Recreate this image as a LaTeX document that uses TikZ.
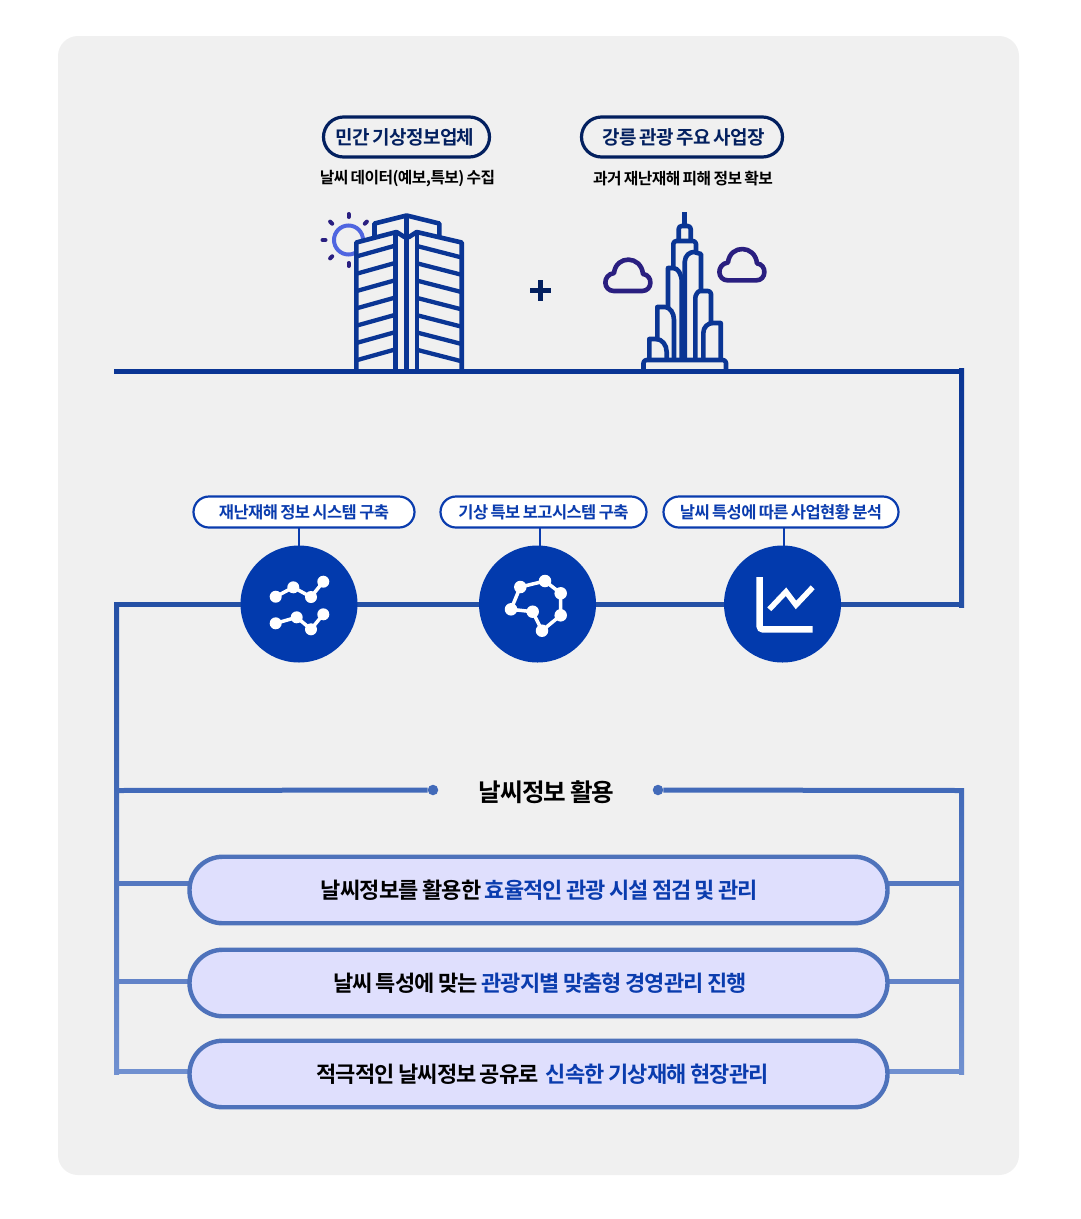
\documentclass[tikz,border=0pt]{standalone}
\usepackage{fontspec}
\setmainfont{Noto Sans CJK KR}[LetterSpace=-3.5,WordSpace=0.75,BoldFont={Noto Sans CJK KR Bold}]
\usetikzlibrary{shapes.misc,calc}
\definecolor{bgc}{HTML}{F0F0F0}
\definecolor{navyc}{HTML}{03205F}
\definecolor{bluec}{HTML}{0A3CAE}
\definecolor{iconc}{HTML}{0A3594}
\definecolor{discc}{HTML}{023AAD}
\definecolor{lilac}{HTML}{DFDFFD}
\definecolor{edgec}{HTML}{4E72BB}
\definecolor{purplec}{HTML}{2A1F80}
\definecolor{sunc}{HTML}{5066E0}
\definecolor{lineA}{RGB}{36,80,165}
\definecolor{lineB}{RGB}{66,106,185}
\definecolor{lineC}{RGB}{85,120,192}
\definecolor{lineD}{RGB}{98,131,200}
\definecolor{lineE}{RGB}{112,144,208}
\tikzset{
 x=1pt,y=-1pt,
 toppill/.style={rounded rectangle,draw=navyc,line width=3.2pt,fill=bgc,text=navyc,minimum height=40pt,inner sep=0pt,font=\fontsize{19}{20}\selectfont\bfseries},
 subtext/.style={inner sep=0pt,text=black,font=\fontsize{15.8}{16}\selectfont\bfseries},
 midpill/.style={rounded rectangle,draw=bluec,line width=2.2pt,fill=white,text=bluec,minimum height=31pt,inner sep=0pt,font=\fontsize{16.5}{17}\selectfont\bfseries},
 disc/.style={circle,fill=discc,minimum size=117pt,inner sep=0pt},
 lowpill/.style={rounded rectangle,draw=edgec,line width=4.4pt,fill=lilac,minimum height=66.5pt,minimum width=698pt,inner sep=0pt,text=black,font=\fontsize{22}{24}\selectfont\bfseries},
 dotnode/.style={circle,fill=lineB,minimum size=10.5pt,inner sep=0pt},
 iconline/.style={draw=iconc,line width=4.6pt,line join=round,line cap=butt},
 cloudline/.style={draw=purplec,line width=4.6pt,line join=round},
 wdot/.style={circle,fill=white,inner sep=0pt,minimum size=#1},
 whiteline/.style={draw=white,line width=3.5pt,line join=round},
 mainline/.style={line width=5pt},
}
\begin{document}
\begin{tikzpicture}
\useasboundingbox (0,0) rectangle (1080,1219);
\fill[white] (0,0) rectangle (1080,1219);
\fill[bgc,rounded corners=20pt] (58,36) rectangle (1019,1175);

% coordinates for line ends
\coordinate (tl) at (116.5,371);
\coordinate (tr) at (961.5,371);
\coordinate (mr) at (961.5,604.5);
\coordinate (ml) at (116.5,604.5);
\coordinate (bl) at (116.5,1071.5);
\coordinate (br) at (961.5,1071.5);
\coordinate (l790) at (116.5,790.5);
\coordinate (r790) at (961.5,790.5);
\coordinate (l883) at (116.5,883.5);
\coordinate (r883) at (961.5,883.5);
\coordinate (l981) at (116.5,981.5);
\coordinate (r981) at (961.5,981.5);

% sun
\draw[sunc,line width=4pt] (348.5,240) circle[radius=14.5];
\foreach \a in {-90,-45,-135,180,135,90}
  \draw[purplec,line width=4pt,line cap=round] ($(348.5,240)+(\a:23)$) -- ($(348.5,240)+(\a:26)$);

% building
\begin{scope}[iconline]
 \draw[fill=bgc] (374.5,238) -- (374.5,223.5) -- (406.7,215.5) -- (439.3,223.5) -- (439.3,238);
 \draw[fill=bgc] (356.3,371) -- (356.3,242.5) -- (396.5,232) -- (404.5,237) -- (406.7,237) -- (409,237) -- (416.7,232) -- (461.7,242.5) -- (461.7,371);
 \draw (395.7,233) -- (395.7,371);
 \draw (406.7,215.5) -- (406.7,371);
 \draw (417,233) -- (417,371);
 \foreach \y in {0,...,6}{
  \draw[line width=4.3pt] (356.3,{256.5+17.3*\y}) -- (395.7,{245.5+17.3*\y});
  \draw[line width=4.3pt] (417,{246+17.3*\y}) -- (461.7,{257.5+17.3*\y});
 }
 % tower
 \draw (684.7,212) -- (684.7,226);
 \draw[rounded corners=3pt] (678.7,239) -- (678.7,226) -- (690.7,226) -- (690.7,239);
 \draw[rounded corners=3pt] (673.3,270) -- (673.3,241) -- (696,241) -- (696,253);
 \draw (684.7,359) -- (684.7,262) .. controls (685,255) and (690,252) .. (694,252) -- (701,254) -- (701,291);
 \draw[rounded corners=3pt] (695.3,359) -- (695.3,301) .. controls (695.3,295) and (698,291) .. (703,291) -- (711,291) -- (711,323);
 \draw (703.3,359) -- (703.3,333) .. controls (703.3,327) and (708,323) .. (713,323) -- (720.7,323) -- (720.7,359);
 \draw (668,307) -- (668,268) -- (673,268) .. controls (678,268) and (681.7,274) .. (681.7,282) -- (681.7,359);
 \draw (657.3,341) -- (657.3,307) -- (665,307) .. controls (670,307) and (674,313) .. (674,320) -- (674,359);
 \draw (649.3,359) -- (649.3,339) -- (656,339) .. controls (662,339) and (666.7,345) .. (666.7,352) -- (666.7,359);
 \draw[rounded corners=3pt] (643.5,371) -- (643.5,360) -- (726,360) -- (726,371);
\end{scope}

% clouds
\foreach \dx/\dy in {0/0,114/-10.6}{
 \begin{scope}[shift={(\dx,\dy)}]
  \draw[cloudline] (614,291) -- (642,291) .. controls (653,291) and (653,275) .. (643,274)
    .. controls (641,255) and (616,255) .. (614,273) .. controls (602,275) and (603,291) .. (614,291) -- cycle;
 \end{scope}
}

% plus
\draw[navyc,line width=5pt] (530,290.5) -- (551,290.5);
\draw[navyc,line width=5pt] (540.5,280) -- (540.5,301);

% top pills and text
\node[toppill,minimum width=166pt] (p1) at (406.5,137) {\hspace*{-3pt}민간 기상정보업체};
\node[toppill,minimum width=201pt] (p2) at (682,137) {\hspace*{3pt}강릉 관광 주요 사업장};
\node[subtext] (s1) at (407.5,179) {날씨 데이터(예보,특보) 수집};
\node[subtext] (s2) at (683,179) {과거 재난재해 피해 정보 확보};

% main lines
\draw[iconc,mainline] ([xshift=-2.5pt]tl) -- ([xshift=2.5pt]tr);
\shade[top color=iconc,bottom color=lineA] (959,368.5) rectangle (964,607);
\draw[mainline,color=lineA] (ml) -- (mr);
\shade[top color=lineA,bottom color=lineE] (114,602) rectangle (119,1074);
\shade[top color=lineB,bottom color=lineE] (959,788) rectangle (964,1074);

% discs
\node[disc] (c1) at (299,604) {};
\node[disc] (c2) at (537.5,604) {};
\node[disc] (c3) at (782.5,604) {};

% mid pills
\node[midpill,minimum width=221pt] (m1) at (304,512) {재난재해 정보 시스템 구축};
\node[midpill,minimum width=206pt] (m2) at (543.5,512) {기상 특보 보고시스템 구축};
\node[midpill,minimum width=235pt] (m3) at (781,512) {날씨 특성에 따른 사업현황 분석};
\draw[bluec,line width=2.2pt] (299,527.5) -- (299,546);
\draw[bluec,line width=2.2pt] (540,527.5) -- (540,546);
\draw[bluec,line width=2.2pt] (784,527.5) -- (784,546);

% disc icons
\draw[whiteline] (275.7,596.7) -- (293.3,587.3) -- (311,597) -- (323.3,581.7);
\draw[whiteline] (275.7,623.3) -- (296.7,617.3) -- (311,629.3) -- (323.3,614.3);
\foreach \p in {(275.7,596.7),(293.3,587.3),(311,597),(323.3,581.7),(275.7,623.3),(296.7,617.3),(311,629.3),(323.3,614.3)}
  \node[wdot=12pt] at \p {};
\draw[whiteline] (532.7,611.7) -- (511,609.3) -- (520.3,587) -- (545,581) -- (560.7,593.3) -- (560.7,615.3) -- (542,630.7) -- cycle;
\foreach \p in {(511,609.3),(520.3,587),(545,581),(560.7,593.3),(560.7,615.3),(542,630.7),(532.7,611.7)}
  \node[wdot=12.5pt] at \p {};
\draw[draw=white,line width=6.5pt,rounded corners=3pt] (759.7,577) -- (759.7,629.3) -- (812.7,629.3);
\draw[draw=white,line width=5.5pt,line join=miter] (769.3,609.3) -- (786,591.7) -- (796,605) -- (812.7,587.3);

% title and its lines
\node[inner sep=0pt,text=black,font=\fontsize{24.6}{28}\selectfont\bfseries] (title) at (546.5,792) {날씨정보 활용};
\node[dotnode] (d1) at (433,790) {};
\node[dotnode] (d2) at (658,790) {};
\draw[mainline,color=lineB] (l790) -- (d1);
\draw[mainline,color=lineB] (d2) -- (r790);

% lower pills
\coordinate (e1l) at (189,883.5); \coordinate (e1r) at (888,883.5);
\coordinate (e2l) at (189,981.5); \coordinate (e2r) at (888,981.5);
\coordinate (e3l) at (189,1071.5); \coordinate (e3r) at (888,1071.5);
\draw[mainline,color=lineC] (l883) -- (e1l) (e1r) -- (r883);
\draw[mainline,color=lineD] (l981) -- (e2l) (e2r) -- (r981);
\draw[mainline,color=lineE] (bl) -- (e3l) (e3r) -- (br);
\node[lowpill] (b1) at (538.5,890) {\hspace*{2pt}날씨정보를 활용한 \textcolor{bluec}{효율적인 관광 시설 점검 및 관리}};
\node[lowpill] (b2) at (538.5,983) {\hspace*{3pt}날씨 특성에 맞는 \textcolor{bluec}{관광지별 맞춤형 경영관리 진행}};
\node[lowpill] (b3) at (538.5,1074) {\hspace*{8pt}적극적인 날씨정보 공유로 \,\textcolor{bluec}{신속한 기상재해 현장관리}};
\end{tikzpicture}
\end{document}
